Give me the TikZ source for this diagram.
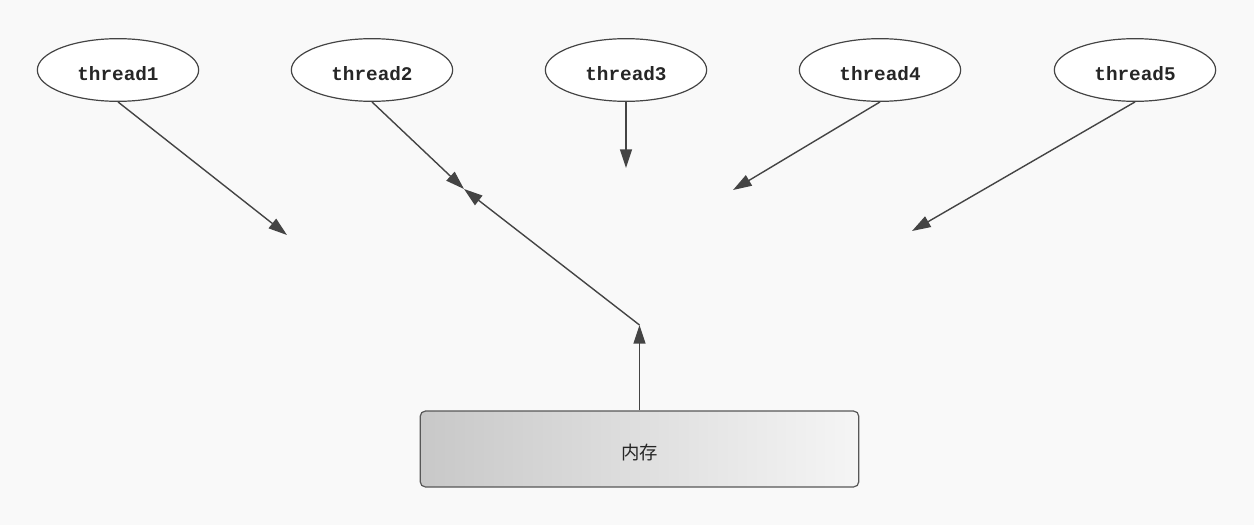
\documentclass[tikz,border=0pt]{standalone}
\usepackage{fontspec}
\newfontfamily\cjk{Noto Sans CJK SC}
\newfontfamily\monob{Liberation Mono}
\usetikzlibrary{arrows.meta,shapes.geometric}
\definecolor{bg}{HTML}{F9F9F9}
\definecolor{ln}{HTML}{444444}
\definecolor{gl}{HTML}{C8C8C8}
\definecolor{gr}{HTML}{F5F5F5}
\tikzset{
  thr/.style={draw=ln, line width=0.9pt, ellipse, fill=white, minimum width=121pt, minimum height=47pt, inner sep=0pt, text height=15pt, text depth=0pt, font=\monob\bfseries\fontsize{14.5}{16}\selectfont, text=black!85},
  conn/.style={draw=ln, line width=1.05pt, -{Triangle[length=14pt,width=9pt]}},
  membox/.style={draw=ln!90, line width=0.9pt, rounded corners=4pt, left color=gl, right color=gr, minimum width=329pt, minimum height=57pt, inner sep=0pt, text height=15pt, text depth=0pt, font=\cjk\fontsize{13.8}{15}\selectfont, text=black!85}
}
\begin{document}
\begin{tikzpicture}[x=0.75pt,y=-0.75pt]
\fill[bg] (0,0) rectangle (1254,525);
\useasboundingbox (0,0) rectangle (1254,525);
\node[thr] (t1) at (118,70) {thread1};
\node[thr] (t2) at (372,70) {thread2};
\node[thr] (t3) at (626,70) {thread3};
\node[thr] (t4) at (880,70) {thread4};
\node[thr] (t5) at (1135,70) {thread5};
\node[membox] (mem) at (639.5,449) {内存};
\coordinate (e1) at (287,235);
\coordinate (e2) at (464,189);
\coordinate (e3) at (626,168);
\coordinate (e4) at (733,190);
\coordinate (e5) at (912,231);
\coordinate (m1) at (639.5,325);
\draw[conn] (t1.south) -- (e1);
\draw[conn] (t2.south) -- (e2);
\draw[conn] (t3.south) -- (e3);
\draw[conn] (t4.south) -- (e4);
\draw[conn] (t5.south) -- (e5);
\draw[conn] (mem.north) -- (m1);
\draw[conn] (m1) -- (e2);
\end{tikzpicture}
\end{document}
